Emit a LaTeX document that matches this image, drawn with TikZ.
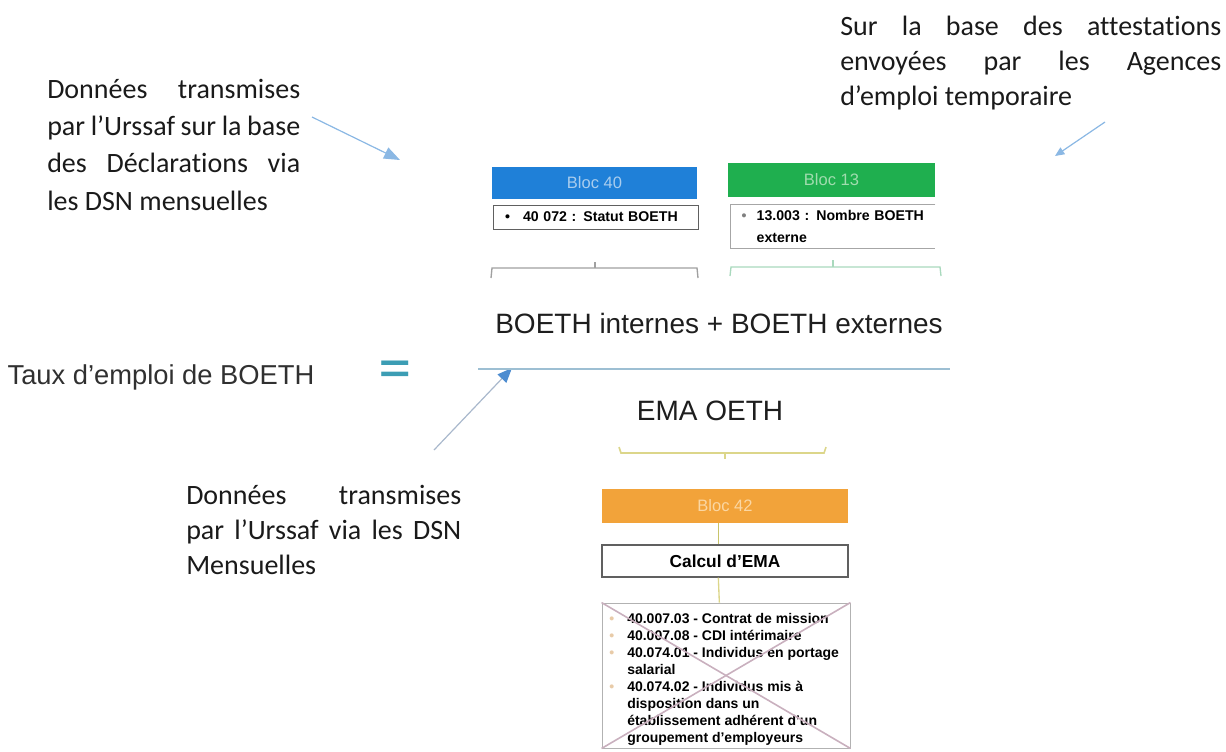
\documentclass[tikz,border=0pt]{standalone}
\usepackage{fontspec}
\setmainfont{Carlito}[Ligatures=NoCommon]
\newfontfamily\arialf{Liberation Sans}
\usetikzlibrary{arrows.meta}
\definecolor{annot}{HTML}{1A1A1A}
\definecolor{formc}{HTML}{1E1E1E}
\definecolor{tauxc}{HTML}{303030}
\definecolor{blocblue}{HTML}{1F80D8}
\definecolor{blocgreen}{HTML}{1FAF4F}
\definecolor{blocorange}{HTML}{F2A33A}
\definecolor{lblblue}{HTML}{A9CDEE}
\definecolor{lblgreen}{HTML}{A0DCAE}
\definecolor{lblorange}{HTML}{FBD7A3}
\definecolor{arrowc}{HTML}{8BB8E4}
\definecolor{fracc}{HTML}{9DBFD3}
\definecolor{eqc}{HTML}{3C9DB4}
\definecolor{arrline}{HTML}{A9B8CC}
\definecolor{arrhead}{HTML}{4D8CD0}
\definecolor{braceg}{HTML}{A0A0A0}
\definecolor{bracegr}{HTML}{A9D9BD}
\definecolor{bracey}{HTML}{DCD68A}
\definecolor{conna}{HTML}{C8C46A}
\definecolor{crossc}{HTML}{C9B0BE}
\definecolor{boxline}{HTML}{606060}
\definecolor{bulc}{HTML}{E8CBA8}
\newcommand{\annotfont}{\fontsize{21}{27.9}\selectfont}
\newcommand{\annotfontb}{\fontsize{21}{26.3}\selectfont}
\newcommand{\formfont}{\arialf\fontsize{21}{25}\selectfont}
\newcommand{\blocfont}{\arialf\fontsize{12.4}{14}\selectfont}
\newcommand{\itemfont}{\arialf\bfseries\fontsize{10.6}{16}\selectfont}
\newcommand{\listfont}{\arialf\bfseries\fontsize{10.5}{12.75}\selectfont}
\newcommand{\blt}{\makebox[13.5pt][l]{\textcolor{bulc}{\textbullet}}}
\newcommand{\nob}{\hspace*{13.5pt}}
\begin{document}
\begin{tikzpicture}[x=0.75pt,y=-0.75pt,
  annot/.style={font=\annotfont, text=annot, inner sep=0pt, align=justify, anchor=north west},
  formula/.style={font=\formfont, text=formc, inner sep=0pt},
  blocbox/.style={inner sep=0pt, font=\blocfont},
  itembox/.style={inner ysep=0pt, inner xsep=9pt, font=\itemfont, align=left, anchor=center},
  pointer/.style={draw=arrowc, line width=0.9pt},
]
\useasboundingbox (0,0) rectangle (1226,751);

% annotations
\node[annot, text width=189.75pt] (ann1) at (47,79)
 {Données transmises\linebreak par l’Urssaf sur la base\linebreak des Déclarations via\linebreak les DSN mensuelles};
\node[annot, font=\annotfontb, text width=285.75pt] (ann2) at (840,16)
 {Sur la base des attestations\linebreak envoyées par les Agences\linebreak d’emploi temporaire};
\node[annot, font=\annotfontb, text width=206.25pt] (ann3) at (186,485)
 {Données transmises\linebreak par l’Urssaf via les DSN\linebreak Mensuelles};

% arrows
\coordinate (a1s) at (312,117);
\coordinate (a1e) at (400,160);
\draw[pointer, -{Triangle[length=12pt,width=9pt]}, fill=arrowc] (a1s) -- (a1e);
\coordinate (a2s) at (1105,122);
\coordinate (a2e) at (1055,156);
\draw[pointer, -{Triangle[length=7pt,width=6pt]}, fill=arrowc] (a2s) -- (a2e);
\coordinate (a3s) at (434,450);
\coordinate (a3e) at (512,368);
\draw[draw=arrline, line width=0.9pt, -{Triangle[length=11pt,width=9pt,color=arrhead]}] (a3s) -- (a3e);

% top blocks
\node[blocbox, fill=blocblue, text=lblblue, minimum width=153.75pt, minimum height=24pt] (b40) at (594.5,183) {Bloc 40};
\node[itembox, draw=boxline, line width=0.6pt, minimum width=153.75pt, minimum height=18pt, text width=135.75pt] (t40) at (595.5,217)
 {\makebox[13.5pt][l]{\textbullet}40 072 : Statut BOETH};
\node[blocbox, fill=blocgreen, text=lblgreen, minimum width=155.25pt, minimum height=25.5pt] (b13) at (831.5,180) {Bloc 13};
\node[itembox, inner xsep=8pt, minimum width=153pt, minimum height=32.25pt, text width=137pt] (t13) at (833,226.5)
 {\makebox[11.25pt][l]{\textcolor{gray}{\textbullet}}13.003 : Nombre BOETH\\\hspace*{11.25pt}externe};
\draw[gray!70, line width=0.6pt] (t13.north east) -- (t13.north west) -- (t13.south west) -- (t13.south east);

% braces
\draw[braceg, line width=1pt] (491,278) -- (492,268) -- (697,268) -- (698,278);
\draw[braceg, line width=1pt] (595,268) -- (595,262);
\draw[bracegr, line width=1pt] (730,276) -- (731,267) -- (940,267) -- (941,276);
\draw[bracegr, line width=1pt] (833,267) -- (833,260);

% formula
\node[formula] (num) at (719,323) {BOETH internes + BOETH externes};
\node[formula, text=tauxc, font=\arialf\fontsize{20.5}{24}\selectfont] (taux) at (161,377) {Taux d’emploi de BOETH};
\node[formula, text=eqc, font=\arialf\bfseries\fontsize{31}{31}\selectfont, xscale=1.3] (eq) at (395,372) {=};
\coordinate (fl) at (478,369);
\coordinate (fr) at (950,369);
\draw[fracc, line width=1.6pt] (fl) -- (fr);
\node[formula] (den) at (710,411) {EMA OETH};

% yellow brace
\draw[bracey, line width=1.2pt] (619,447) -- (621,453) -- (824,453) -- (826,447);
\draw[bracey, line width=1.2pt] (725,453) -- (725,459);

% lower blocks
\node[blocbox, fill=blocorange, text=lblorange, minimum width=184.5pt, minimum height=25.5pt] (b42) at (725,506) {Bloc 42};
\node[draw=boxline, line width=0.9pt, inner sep=0pt, font=\arialf\bfseries\fontsize{13}{15}\selectfont, minimum width=184.5pt, minimum height=24pt] (calc) at (725,561) {Calcul d’EMA};
\draw[conna, line width=1pt] ([xshift=-5pt]b42.south) -- ([xshift=-5pt]calc.north);

\node[draw=gray!60, line width=0.7pt, inner sep=0pt, minimum width=186pt, minimum height=108.75pt] (crossbox) at (726,675.5) {};
\node[inner sep=0pt, font=\listfont, align=left, anchor=north west] (list) at (609,613)
 {\blt 40.007.03 - Contrat de mission\\
  \blt 40.007.08 - CDI intérimaire\\
  \blt 40.074.01 - Individus en portage\\
  \nob salarial\\
  \blt 40.074.02 - Individus mis à\\
  \nob disposition dans un\\
  \nob établissement adhérent d’un\\
  \nob groupement d’employeurs};
\draw[bracey, line width=1pt] ([xshift=-5pt]calc.south) -- ([xshift=-5pt]crossbox.north);
\draw[crossc, line width=1.2pt] (crossbox.north west) -- (crossbox.south east);
\draw[crossc, line width=1.2pt] (crossbox.north east) -- (crossbox.south west);
\end{tikzpicture}
\end{document}
